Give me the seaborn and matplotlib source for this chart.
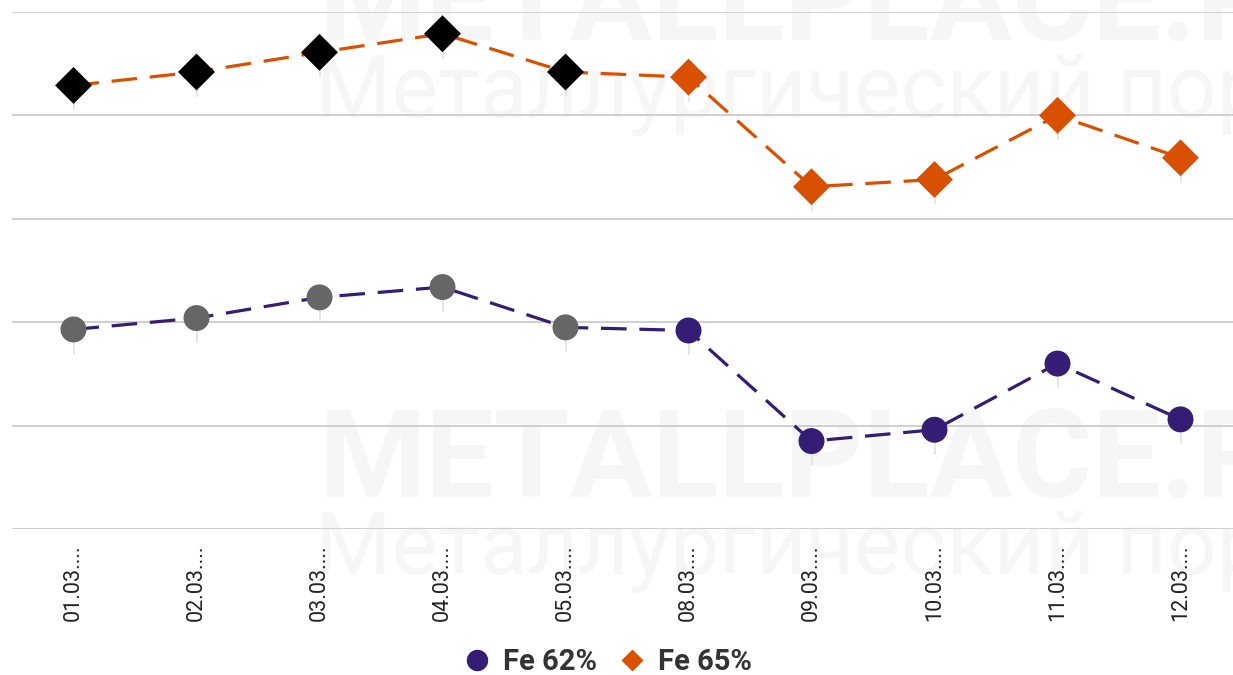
import matplotlib
matplotlib.use("Agg")
import matplotlib.pyplot as plt
from matplotlib.lines import Line2D
import seaborn as sns
import pandas as pd

dates = ["01.03....", "02.03....", "03.03....", "04.03....", "05.03....",
         "08.03....", "09.03....", "10.03....", "11.03....", "12.03...."]
fe62 = [179.3, 180.4, 182.4, 183.4, 179.5, 179.2, 168.5, 169.6, 176.0, 170.6]
fe65 = [202.9, 204.2, 206.1, 207.9, 204.2, 203.7, 193.1, 193.8, 200.0, 195.9]
series_names = ["Fe 62%", "Fe 65%"]
y_ticks = [160, 170, 180, 190, 200, 210]
n_highlight = 5

C62 = "#351c75"
C65 = "#d95000"
HL62 = "#666666"
HL65 = "#000000"

sns.set_theme(style="white")
plt.rcParams["font.family"] = ["Roboto", "DejaVu Sans"]

df = pd.DataFrame({
    "date": dates * 2,
    "value": fe62 + fe65,
    "series": [series_names[0]] * len(dates) + [series_names[1]] * len(dates),
})

fig = plt.figure(figsize=(12.33, 6.75), dpi=100)
W, H = 1233, 675
ax = fig.add_axes([12 / W, 1 - 529 / H, 1230 / W, (529 - 12) / H])
ax.set_facecolor("none")

# watermark
wm = "#f6f6f6"
fig.text(318 / W, 1 - 40 / H, "METALLPLACE.RU", fontsize=88, fontweight="bold",
         color=wm, ha="left", va="baseline", zorder=-5)
fig.text(315 / W, 1 - 117 / H, "Металлургический портал", fontsize=63,
         color=wm, ha="left", va="baseline", zorder=-5)
fig.text(318 / W, 1 - 497 / H, "METALLPLACE.RU", fontsize=88, fontweight="bold",
         color=wm, ha="left", va="baseline", zorder=-5)
fig.text(315 / W, 1 - 574 / H, "Металлургический портал", fontsize=63,
         color=wm, ha="left", va="baseline", zorder=-5)

# lines
sns.lineplot(data=df, x="date", y="value", hue="series",
             palette={series_names[0]: C62, series_names[1]: C65},
             style="series", dashes={series_names[0]: (8, 4), series_names[1]: (8, 4)},
             linewidth=2.3, legend=False, ax=ax, zorder=3, sort=False)

# small connector ticks under points
for vals in (fe62, fe65):
    ax.vlines(range(len(dates)), [v - 2.4 for v in vals], vals,
              colors="#e2e2e2", linewidth=1.2, zorder=2)

# markers
cols62 = [HL62 if i < n_highlight else C62 for i in range(len(dates))]
cols65 = [HL65 if i < n_highlight else C65 for i in range(len(dates))]
ax.scatter(range(len(dates)), fe62, s=18.7 ** 2, marker="o", c=cols62,
           linewidths=0, zorder=4)
ax.scatter(range(len(dates)), fe65, s=13.3 ** 2 * 2, marker="D", c=cols65,
           linewidths=0, zorder=4)

ax.set_xlim(-0.5, len(dates) - 0.5)
ax.set_ylim(y_ticks[0], y_ticks[-1])
ax.set_yticks(y_ticks)
ax.yaxis.grid(True, color="#cccccc", linewidth=1.3)
ax.xaxis.grid(False)
ax.set_yticklabels([])
for s in ax.spines.values():
    s.set_visible(False)
ax.tick_params(axis="both", length=0)
ax.tick_params(axis="x", pad=11)
ax.set_xlabel("")
ax.set_ylabel("")
plt.setp(ax.get_xticklabels(), rotation=90, fontsize=15.5, color="#222222",
         ha="center", va="top")

handles = [
    Line2D([], [], marker="o", linestyle="none", markersize=14.4, color=C62),
    Line2D([], [], marker="D", linestyle="none", markersize=10.5, color=C65),
]
fig.legend(handles, series_names, loc="center", bbox_to_anchor=(607 / W, 1 - 662 / H),
           ncol=2, frameon=False, prop={"family": "Roboto", "weight": "bold", "size": 21},
           labelcolor="#333333", handlelength=1.0, handletextpad=0.4,
           columnspacing=0.7, borderpad=0.2)

fig.savefig("out.png", dpi=100, facecolor="white")
